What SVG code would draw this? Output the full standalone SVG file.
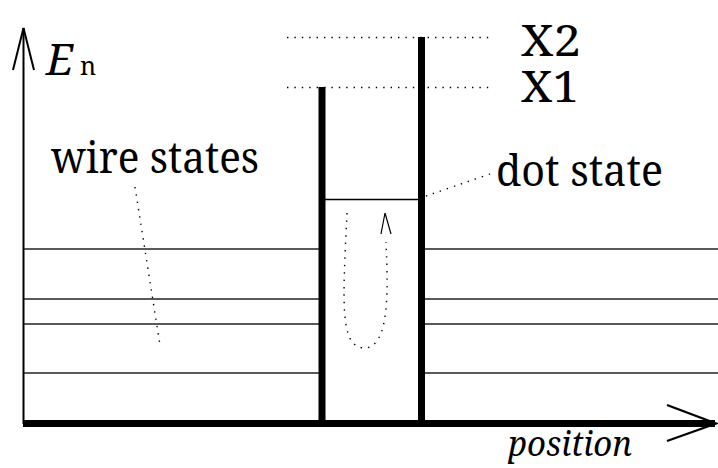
<svg xmlns="http://www.w3.org/2000/svg" width="718" height="468" viewBox="0 0 718 468">
<style>
.t{fill:#000;font-family:"Noto Serif","Liberation Serif",serif}
.lvl{stroke:#222;stroke-width:1.4;fill:none}
.dot{stroke:#000;stroke-width:1.4;fill:none;stroke-dasharray:1.4 6}
.wall{stroke:#000;stroke-width:7;fill:none}
</style>
<rect width="718" height="468" fill="#fff"/>
<g id="axes">
<line x1="23.5" y1="424" x2="23.5" y2="28" stroke="#000" stroke-width="2"/>
<polyline points="13,70 23.5,28 34,70" fill="none" stroke="#000" stroke-width="2"/>
<line x1="23" y1="423.5" x2="715" y2="423.5" stroke="#000" stroke-width="7"/>
<polyline points="667,405 716,423.5 667,441" fill="none" stroke="#000" stroke-width="2.2"/>
</g>
<g id="wire-states-levels">
<line class="lvl" x1="24" y1="249" x2="319" y2="249"/>
<line class="lvl" x1="24" y1="299" x2="319" y2="299"/>
<line class="lvl" x1="24" y1="324" x2="319" y2="324"/>
<line class="lvl" x1="24" y1="373" x2="319" y2="373"/>
<line class="lvl" x1="425" y1="249" x2="718" y2="249"/>
<line class="lvl" x1="425" y1="299" x2="718" y2="299"/>
<line class="lvl" x1="425" y1="324" x2="718" y2="324"/>
<line class="lvl" x1="425" y1="373" x2="718" y2="373"/>
</g>
<g id="barriers">
<line class="wall" x1="322" y1="87" x2="322" y2="424"/>
<line class="wall" x1="421.5" y1="37" x2="421.5" y2="424"/>
<line x1="325" y1="199.5" x2="418" y2="199.5" stroke="#000" stroke-width="1.5"/>
</g>
<g id="barrier-levels">
<line class="dot" x1="287" y1="37.5" x2="490" y2="37.5"/>
<line class="dot" x1="287" y1="87.5" x2="490" y2="87.5"/>
</g>
<g id="connectors">
<path class="dot" d="M135,187 L160,345"/>
<path class="dot" d="M426,196 Q455,186 490,174"/>
<path class="dot" d="M347,213 C343,300 339,347 364,348 C390,348 388,290 386,242"/>
<polyline points="381,234 385,213 391,234" fill="none" stroke="#000" stroke-width="1.2"/>
</g>
<g id="labels">
<text class="t" x="46" y="75" font-size="44" font-style="italic">E</text>
<text class="t" x="80" y="75" font-size="25">n</text>
<text class="t" x="521" y="56" font-size="43" textLength="60" lengthAdjust="spacingAndGlyphs">X2</text>
<text class="t" x="521" y="102" font-size="43" textLength="58" lengthAdjust="spacingAndGlyphs">X1</text>
<text class="t" x="51" y="173" font-size="44" textLength="208" lengthAdjust="spacingAndGlyphs">wire states</text>
<text class="t" x="496" y="186" font-size="44" textLength="167" lengthAdjust="spacingAndGlyphs">dot state</text>
<text class="t" x="508" y="456" font-size="35" font-style="italic" textLength="124" lengthAdjust="spacingAndGlyphs">position</text>
</g>
</svg>
